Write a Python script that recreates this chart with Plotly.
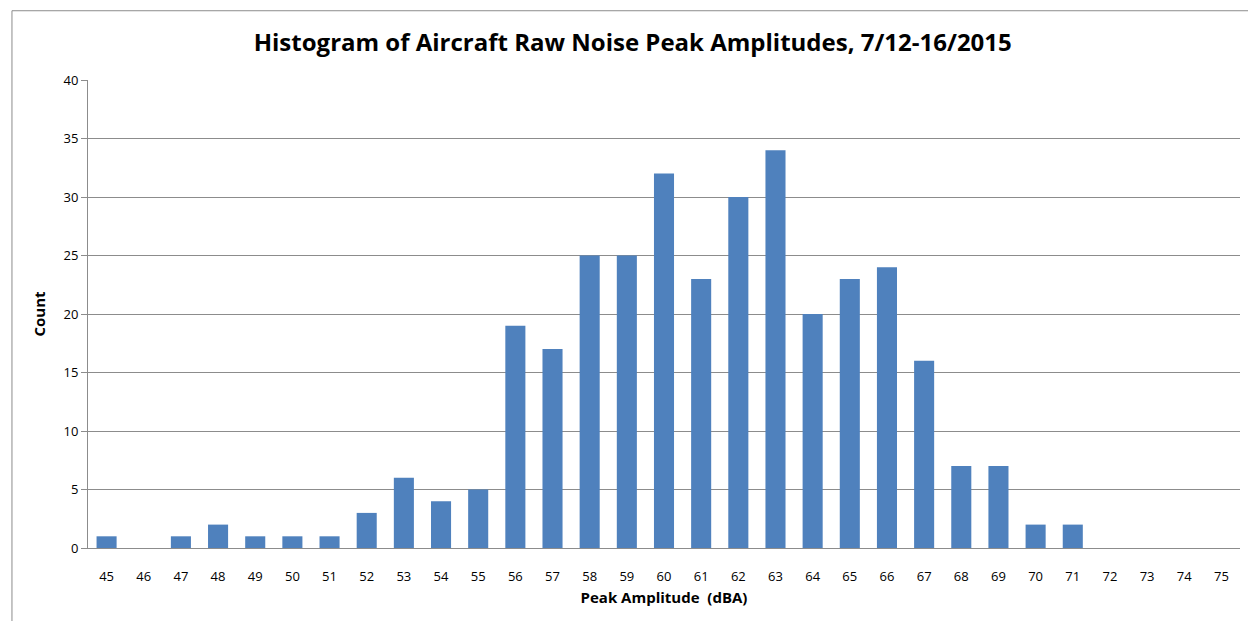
import plotly.graph_objects as go

categories = [str(v) for v in range(45, 76)]
counts = [1, 0, 1, 2, 1, 1, 1, 3, 6, 4, 5, 19, 17, 25, 25, 32, 23, 30, 34, 20, 23, 24, 16, 7, 7, 2, 2, 0, 0, 0, 0]
y_ticks = [0, 5, 10, 15, 20, 25, 30, 35, 40]

fig = go.Figure(go.Bar(x=categories, y=counts, marker=dict(color="#4F81BD", line=dict(width=0))))

font_family = "Open Sans, Liberation Sans, sans-serif"
fig.update_layout(
    width=1248, height=621,
    margin=dict(l=88, r=8, t=80, b=73),
    paper_bgcolor="white", plot_bgcolor="white",
    bargap=0.46,
    showlegend=False,
    title=dict(text="<b>Histogram of Aircraft Raw Noise Peak Amplitudes, 7/12-16/2015</b>",
               x=0.507, xanchor="center", y=0.932, yanchor="middle",
               font=dict(family=font_family, size=24, color="black")),
    xaxis=dict(type="category", showgrid=False, showline=True, linecolor="#8C8C8C", linewidth=1,
               ticks="", tickfont=dict(family=font_family, size=13, color="black"),
               ticklabelstandoff=16, automargin=False,
               title=dict(text="<b>Peak Amplitude  (dBA)</b>", standoff=8,
                          font=dict(family=font_family, size=15, color="black"))),
    yaxis=dict(range=[0, 40], tickvals=y_ticks, showgrid=True, gridcolor="#8C8C8C", gridwidth=1,
               showline=True, linecolor="#8C8C8C", linewidth=1, zeroline=False,
               ticks="outside", ticklen=6, tickcolor="#8C8C8C", automargin=False,
               tickfont=dict(family=font_family, size=13, color="black"),
               title=dict(text="<b>Count</b>", standoff=14,
                          font=dict(family=font_family, size=15, color="black"))),
    shapes=[
        dict(type="line", xref="paper", yref="paper", x0=-0.066, x1=1.01, y0=1.148, y1=1.148,
             line=dict(color="#8C8C8C", width=1)),
        dict(type="line", xref="paper", yref="paper", x0=-0.066, x1=-0.066, y0=1.148, y1=-0.2,
             line=dict(color="#8C8C8C", width=1)),
    ],
)

fig.write_html("out.html", config={"displayModeBar": False})

with open("out.html", "r", encoding="utf-8") as f:
    html = f.read()
html = html.replace("<head>", "<head><style>html,body{margin:0;padding:0;}</style>", 1)
with open("out.html", "w", encoding="utf-8") as f:
    f.write(html)
